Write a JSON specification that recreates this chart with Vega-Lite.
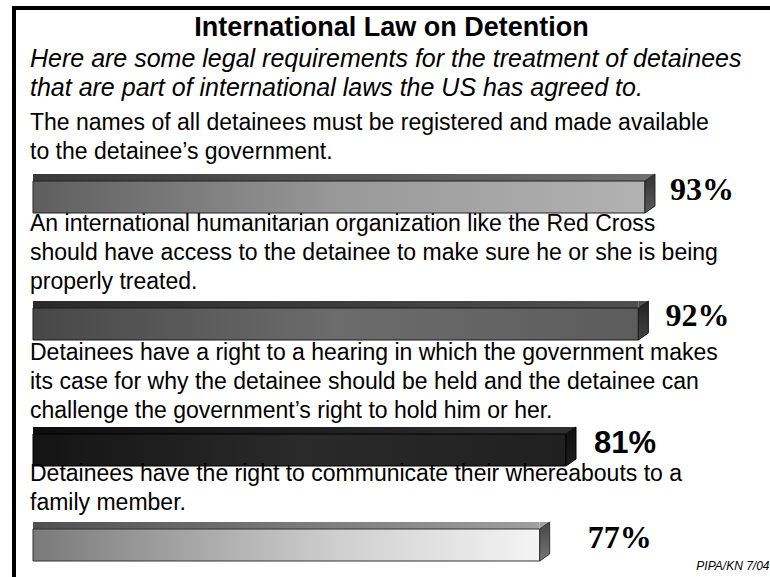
{
  "$schema": "https://vega.github.io/schema/vega-lite/v6.json",
  "background": "white",
  "padding": {"left": 11, "top": 5, "right": 4, "bottom": 1},
  "spacing": 0,
  "bounds": "flush",
  "title": {"text": "International Law on Detention", "anchor": "middle", "frame": "group", "offset": -36.5, "font": "Liberation Sans", "fontSize": 27, "fontWeight": "bold", "color": "black"},
  "vconcat": [
    {
      "width": 755, "height": 205,
      "view": {"stroke": "black", "strokeWidth": 4, "strokeCap": "square", "strokeDash": [755, 960, 205, 0]},
      "title": {
        "text": ["Here are some legal requirements for the treatment of detainees", "that are part of international laws the US has agreed to."],
        "subtitle": ["The names of all detainees must be registered and made available", "to the detainee’s government."],
        "anchor": "start", "frame": "group", "dx": 16, "offset": -155.8,
        "font": "Liberation Sans", "fontSize": 25, "fontStyle": "italic", "fontWeight": "normal", "lineHeight": 29, "color": "black",
        "subtitleFont": "Liberation Sans", "subtitleFontSize": 23, "subtitleLineHeight": 29, "subtitlePadding": 10.5, "subtitleColor": "black"
      },
      "data": {"values": [{"requirement": "Names of detainees registered and made available", "pct": 0.93}]},
      "encoding": {
        "y": {"field": "requirement", "type": "nominal", "axis": null, "scale": {"paddingInner": 0.63006, "paddingOuter": 1, "align": 1}},
        "x": {"field": "pct", "type": "quantitative", "scale": {"domain": [-0.02888, 1.1185]}, "axis": null}
      },
      "layer": [
        {"mark": {"type": "bar", "height": 7, "yOffset": -19.5, "x2Offset": 10, "color": {"gradient": "linear", "x1": 0, "y1": 0, "x2": 1, "y2": 0, "stops": [{"offset": 0, "color": "#3a3a3a"}, {"offset": 1, "color": "#6e6e6e"}]}}},
        {"mark": {"type": "point", "shape": "M0,-16L10,-23L10,-16Z", "size": 4, "filled": true, "opacity": 1, "color": "#3a3a3a"},
         "encoding": {"x": {"datum": 0, "type": "quantitative"}}},
        {"mark": {"type": "point", "shape": "M0,-16L0,-23L10,-23Z", "size": 4, "filled": true, "opacity": 1, "color": "#6e6e6e"}},
        {"mark": {"type": "bar", "stroke": "#222222", "strokeWidth": 1, "color": {"gradient": "linear", "x1": 0, "y1": 0, "x2": 1, "y2": 0, "stops": [{"offset": 0, "color": "#5e5e5e"}, {"offset": 0.5, "color": "#999999"}, {"offset": 1, "color": "#b2b2b2"}]}}},
        {"mark": {"type": "point", "shape": "M0,-16L10,-23L10,9L0,16Z", "size": 4, "filled": true, "opacity": 1, "stroke": "#222222", "strokeWidth": 1, "color": {"gradient": "linear", "x1": 0, "y1": 0, "x2": 0, "y2": 1, "stops": [{"offset": 0, "color": "#333333"}, {"offset": 1, "color": "#5a5a5a"}]}}},
        {"mark": {"type": "text", "align": "left", "baseline": "alphabetic", "dx": 25, "dy": 3, "font": "Liberation Serif", "fontSize": 32, "fontWeight": "bold", "color": "black"},
         "encoding": {"text": {"field": "pct", "type": "quantitative", "format": ".0%"}}}
      ]
    },
    {
      "width": 755, "height": 127,
      "view": {"stroke": "black", "strokeWidth": 4, "strokeCap": "square", "strokeDash": [0, 1637, 127, 0]},
      "title": {
        "text": ["An international humanitarian organization like the Red Cross", "should have access to the detainee to make sure he or she is being", "properly treated."],
        "anchor": "start", "frame": "group", "dx": 16, "offset": -80.8,
        "font": "Liberation Sans", "fontSize": 23, "fontStyle": "normal", "fontWeight": "normal", "lineHeight": 29, "color": "black"
      },
      "data": {"values": [{"requirement": "Red Cross access to detainees", "pct": 0.92}]},
      "encoding": {
        "y": {"field": "requirement", "type": "nominal", "axis": null, "scale": {"paddingInner": 0.32632, "paddingOuter": 1, "align": 1}},
        "x": {"field": "pct", "type": "quantitative", "scale": {"domain": [-0.02888, 1.1185]}, "axis": null}
      },
      "layer": [
        {"mark": {"type": "bar", "height": 7, "yOffset": -19.5, "x2Offset": 10, "color": {"gradient": "linear", "x1": 0, "y1": 0, "x2": 1, "y2": 0, "stops": [{"offset": 0, "color": "#2a2a2a"}, {"offset": 1, "color": "#505050"}]}}},
        {"mark": {"type": "point", "shape": "M0,-16L10,-23L10,-16Z", "size": 4, "filled": true, "opacity": 1, "color": "#2a2a2a"},
         "encoding": {"x": {"datum": 0, "type": "quantitative"}}},
        {"mark": {"type": "point", "shape": "M0,-16L0,-23L10,-23Z", "size": 4, "filled": true, "opacity": 1, "color": "#505050"}},
        {"mark": {"type": "bar", "stroke": "#1a1a1a", "strokeWidth": 1, "color": {"gradient": "linear", "x1": 0, "y1": 0, "x2": 1, "y2": 0, "stops": [{"offset": 0, "color": "#474747"}, {"offset": 0.5, "color": "#6c6c6c"}, {"offset": 1, "color": "#5c5c5c"}]}}},
        {"mark": {"type": "point", "shape": "M0,-16L10,-23L10,9L0,16Z", "size": 4, "filled": true, "opacity": 1, "stroke": "#1a1a1a", "strokeWidth": 1, "color": {"gradient": "linear", "x1": 0, "y1": 0, "x2": 0, "y2": 1, "stops": [{"offset": 0, "color": "#222222"}, {"offset": 1, "color": "#444444"}]}}},
        {"mark": {"type": "text", "align": "left", "baseline": "alphabetic", "dx": 27, "dy": 2, "font": "Liberation Serif", "fontSize": 32, "fontWeight": "bold", "color": "black"},
         "encoding": {"text": {"field": "pct", "type": "quantitative", "format": ".0%"}}}
      ]
    },
    {
      "width": 755, "height": 126,
      "view": {"stroke": "black", "strokeWidth": 4, "strokeCap": "square", "strokeDash": [0, 1636, 126, 0]},
      "title": {
        "text": ["Detainees have a right to a hearing in which the government makes", "its case for why the detainee should be held and the detainee can", "challenge the government’s right to hold him or her."],
        "anchor": "start", "frame": "group", "dx": 16, "offset": -82.8,
        "font": "Liberation Sans", "fontSize": 23, "fontStyle": "normal", "fontWeight": "normal", "lineHeight": 29, "color": "black"
      },
      "data": {"values": [{"requirement": "Right to a hearing", "pct": 0.81}]},
      "encoding": {
        "y": {"field": "requirement", "type": "nominal", "axis": null, "scale": {"paddingInner": 0.31915, "paddingOuter": 1, "align": 1}},
        "x": {"field": "pct", "type": "quantitative", "scale": {"domain": [-0.02888, 1.1185]}, "axis": null}
      },
      "layer": [
        {"mark": {"type": "bar", "height": 7, "yOffset": -19.5, "x2Offset": 10, "color": {"gradient": "linear", "x1": 0, "y1": 0, "x2": 1, "y2": 0, "stops": [{"offset": 0, "color": "#0e0e0e"}, {"offset": 1, "color": "#303030"}]}}},
        {"mark": {"type": "point", "shape": "M0,-16L10,-23L10,-16Z", "size": 4, "filled": true, "opacity": 1, "color": "#0e0e0e"},
         "encoding": {"x": {"datum": 0, "type": "quantitative"}}},
        {"mark": {"type": "point", "shape": "M0,-16L0,-23L10,-23Z", "size": 4, "filled": true, "opacity": 1, "color": "#303030"}},
        {"mark": {"type": "bar", "stroke": "#000000", "strokeWidth": 1, "color": {"gradient": "linear", "x1": 0, "y1": 0, "x2": 1, "y2": 0, "stops": [{"offset": 0, "color": "#141414"}, {"offset": 0.5, "color": "#2a2a2a"}, {"offset": 1, "color": "#202020"}]}}},
        {"mark": {"type": "point", "shape": "M0,-16L10,-23L10,9L0,16Z", "size": 4, "filled": true, "opacity": 1, "stroke": "#000000", "strokeWidth": 1, "color": {"gradient": "linear", "x1": 0, "y1": 0, "x2": 0, "y2": 1, "stops": [{"offset": 0, "color": "#101010"}, {"offset": 1, "color": "#1e1e1e"}]}}},
        {"mark": {"type": "text", "align": "left", "baseline": "alphabetic", "dx": 28, "dy": 3, "font": "Liberation Sans", "fontSize": 31, "fontWeight": "bold", "color": "black"},
         "encoding": {"text": {"field": "pct", "type": "quantitative", "format": ".0%"}}}
      ]
    },
    {
      "width": 755, "height": 113,
      "view": {"stroke": "black", "strokeWidth": 4, "strokeCap": "square", "strokeDash": [0, 868, 868, 0]},
      "title": {
        "text": ["Detainees have the right to communicate their whereabouts to a", "family member."],
        "anchor": "start", "frame": "group", "dx": 16, "offset": -48.8,
        "font": "Liberation Sans", "fontSize": 23, "fontStyle": "normal", "fontWeight": "normal", "lineHeight": 29, "color": "black"
      },
      "data": {"values": [{"requirement": "Communicate whereabouts to family", "pct": 0.77}]},
      "encoding": {
        "y": {"field": "requirement", "type": "nominal", "axis": null, "scale": {"paddingInner": 0.20988, "paddingOuter": 1, "align": 0.7778}},
        "x": {"field": "pct", "type": "quantitative", "scale": {"domain": [-0.02888, 1.1185]},
          "axis": {"orient": "bottom", "domain": false, "ticks": false, "labels": false, "grid": false, "title": "PIPA/KN 7/04", "titleAnchor": "end", "titleAlign": "right", "titleFont": "Liberation Sans", "titleFontSize": 12, "titleFontStyle": "italic", "titleFontWeight": "normal", "titleBaseline": "alphabetic", "titleY": -10, "titleColor": "black"}}
      },
      "layer": [
        {"mark": {"type": "bar", "height": 7, "yOffset": -19.5, "x2Offset": 10, "color": {"gradient": "linear", "x1": 0, "y1": 0, "x2": 1, "y2": 0, "stops": [{"offset": 0, "color": "#505050"}, {"offset": 1, "color": "#a0a0a0"}]}}},
        {"mark": {"type": "point", "shape": "M0,-16L10,-23L10,-16Z", "size": 4, "filled": true, "opacity": 1, "color": "#505050"},
         "encoding": {"x": {"datum": 0, "type": "quantitative"}}},
        {"mark": {"type": "point", "shape": "M0,-16L0,-23L10,-23Z", "size": 4, "filled": true, "opacity": 1, "color": "#a0a0a0"}},
        {"mark": {"type": "bar", "stroke": "#333333", "strokeWidth": 1, "color": {"gradient": "linear", "x1": 0, "y1": 0, "x2": 1, "y2": 0, "stops": [{"offset": 0, "color": "#7a7a7a"}, {"offset": 0.6, "color": "#cfcfcf"}, {"offset": 1, "color": "#f4f4f4"}]}}},
        {"mark": {"type": "point", "shape": "M0,-16L10,-23L10,9L0,16Z", "size": 4, "filled": true, "opacity": 1, "stroke": "#333333", "strokeWidth": 1, "color": {"gradient": "linear", "x1": 0, "y1": 0, "x2": 0, "y2": 1, "stops": [{"offset": 0, "color": "#444444"}, {"offset": 1, "color": "#777777"}]}}},
        {"mark": {"type": "text", "align": "left", "baseline": "alphabetic", "dx": 48, "dy": 3, "font": "Liberation Serif", "fontSize": 32, "fontWeight": "bold", "color": "black"},
         "encoding": {"text": {"field": "pct", "type": "quantitative", "format": ".0%"}}}
      ]
    }
  ]
}
